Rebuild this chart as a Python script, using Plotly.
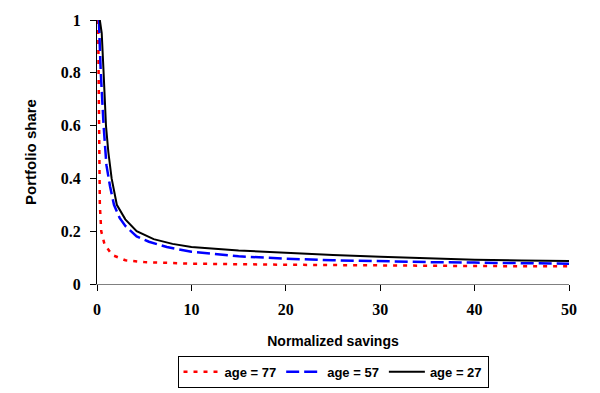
import plotly.graph_objects as go

x77 = [0.12, 0.16, 0.2, 0.24, 0.3, 0.45, 0.8, 1.6, 3, 5, 10, 20, 30, 40, 50]
y77 = [1.0, 0.8, 0.6, 0.4, 0.3, 0.2, 0.15, 0.11, 0.09, 0.083, 0.077, 0.073, 0.07, 0.068, 0.067]

x57 = [0.2, 0.4, 0.7, 1.0, 1.38, 1.8, 2.4, 3, 4.2, 5.5, 7.4, 10, 15, 20, 25, 30, 35, 40, 45, 50]
y57 = [1.0, 0.8, 0.6, 0.45, 0.37, 0.3, 0.25, 0.22, 0.18, 0.16, 0.14, 0.122, 0.105, 0.096, 0.09, 0.086, 0.083, 0.081, 0.079, 0.077]

x27 = [0.3, 0.5, 0.7, 0.95, 1.2, 1.55, 2.1, 3, 4.2, 6, 8, 10, 15, 20, 25, 30, 35, 40, 45, 50]
y27 = [1.0, 0.95, 0.8, 0.6, 0.5, 0.4, 0.3, 0.245, 0.2, 0.17, 0.152, 0.14, 0.127, 0.118, 0.11, 0.103, 0.097, 0.092, 0.089, 0.087]

names = ["age = 77", "age = 57", "age = 27"]

fig = go.Figure()
fig.add_trace(go.Scatter(x=x77, y=y77, mode="lines", name=names[0],
                         line=dict(color="#ff0000", width=2.5, dash="4px,6px")))
fig.add_trace(go.Scatter(x=x57, y=y57, mode="lines", name=names[1],
                         line=dict(color="#0000ff", width=2.5, dash="13px,5px")))
fig.add_trace(go.Scatter(x=x27, y=y27, mode="lines", name=names[2],
                         line=dict(color="#000000", width=2)))

sans = "Liberation Sans, Arial, sans-serif"
serif = "Liberation Serif, Times New Roman, serif"

fig.update_layout(
    width=600, height=393,
    margin=dict(l=97, r=31, t=20, b=109),
    paper_bgcolor="white", plot_bgcolor="white",
    font=dict(family=sans, size=14, color="black"),
    showlegend=True,
    legend=dict(orientation="h", x=0.5, xanchor="center",
                yref="container", y=0.013, yanchor="bottom",
                bordercolor="black", borderwidth=1, bgcolor="white",
                font=dict(family=sans, size=13, color="black", weight="bold"),
                itemwidth=36, tracegroupgap=0),
)
fig.update_xaxes(range=[0, 50], tickvals=[0, 10, 20, 30, 40, 50], showgrid=False, zeroline=False,
                 automargin=False,
                 showline=True, linecolor="#808080", linewidth=1, ticks="outside", ticklen=6,
                 tickcolor="black", ticklabelstandoff=5,
                 tickfont=dict(family=serif, size=16, weight="bold"),
                 title=dict(text="<b>Normalized savings</b>", standoff=18, font=dict(size=14)))
fig.update_yaxes(range=[0, 1], tickvals=[0, 0.2, 0.4, 0.6, 0.8, 1], showgrid=False, zeroline=False,
                 automargin=False,
                 showline=True, linecolor="black", linewidth=1, ticks="outside", ticklen=6,
                 tickcolor="black", ticklabelstandoff=6,
                 tickfont=dict(family=serif, size=16, weight="bold"),
                 title=dict(text="<b>Portfolio share</b>", standoff=20, font=dict(size=15)))

fig.write_html("out.html", config={"displayModeBar": False},
               post_script="document.body.style.margin='0';document.body.style.padding='0';")
